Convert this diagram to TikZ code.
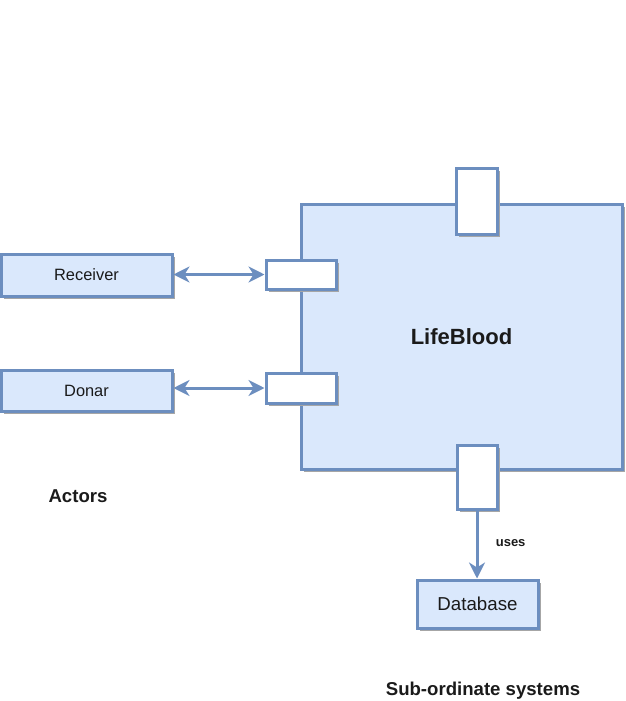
\documentclass[tikz,border=0pt]{standalone}
\usepackage{fontspec}
\setmainfont{Liberation Sans}
\usetikzlibrary{arrows.meta,shadows}
\definecolor{bfill}{HTML}{DAE8FC}
\definecolor{bline}{HTML}{6C8EBF}
\definecolor{txt}{HTML}{1A1A1A}
\begin{document}
\begin{tikzpicture}[x=1pt,y=-1pt,
  box/.style={draw=bline, line width=3pt, fill=bfill, rectangle, inner sep=0pt,
    general shadow={fill=black!35, shadow xshift=3pt, shadow yshift=-3pt},
    text=txt, font=\fontsize{16.4}{18}\selectfont},
  port/.style={box, fill=white},
  conn/.style={draw=bline, line width=3pt, -{Stealth[length=16pt,width=16pt,inset=5pt]}},
  bconn/.style={conn, {Stealth[length=16pt,width=16pt,inset=5pt]}-{Stealth[length=16pt,width=16pt,inset=5pt]}},
  lbl/.style={text=txt, font=\bfseries\fontsize{18.6}{20}\selectfont}]
\useasboundingbox (0,0) rectangle (625,701);
\node[box, minimum width=321pt, minimum height=265pt, font=\bfseries\fontsize{22}{24}\selectfont] (main) at (461.5,336.5) {LifeBlood};
\node[port, minimum width=41pt, minimum height=66pt] (topport) at (476.5,201) {};
\node[port, minimum width=70pt, minimum height=29pt] (lport1) at (301,274.5) {};
\node[port, minimum width=70pt, minimum height=30pt] (lport2) at (301,388) {};
\node[port, minimum width=40pt, minimum height=64pt] (botport) at (477,477) {};
\node[box, minimum width=171pt, minimum height=42pt] (receiver) at (86.5,275) {Receiver};
\node[box, minimum width=171pt, minimum height=41pt] (donar) at (86.5,390.5) {Donar};
\node[box, minimum width=121pt, minimum height=48pt, font=\fontsize{18.7}{20}\selectfont] (database) at (477.5,604) {Database};
\draw[bconn] (receiver.east |- lport1.west) -- (lport1.west);
\draw[bconn] (donar.east |- lport2.west) -- (lport2.west);
\draw[conn] (botport.south) -- node[right, xshift=14pt, yshift=1pt, text=txt, font=\bfseries\fontsize{13}{14}\selectfont] {uses} (botport.south |- database.north);
\node[lbl] (actors) at (78,496) {Actors};
\node[lbl] (subsys) at (483,691) {Sub-ordinate systems};
\end{tikzpicture}
\end{document}
